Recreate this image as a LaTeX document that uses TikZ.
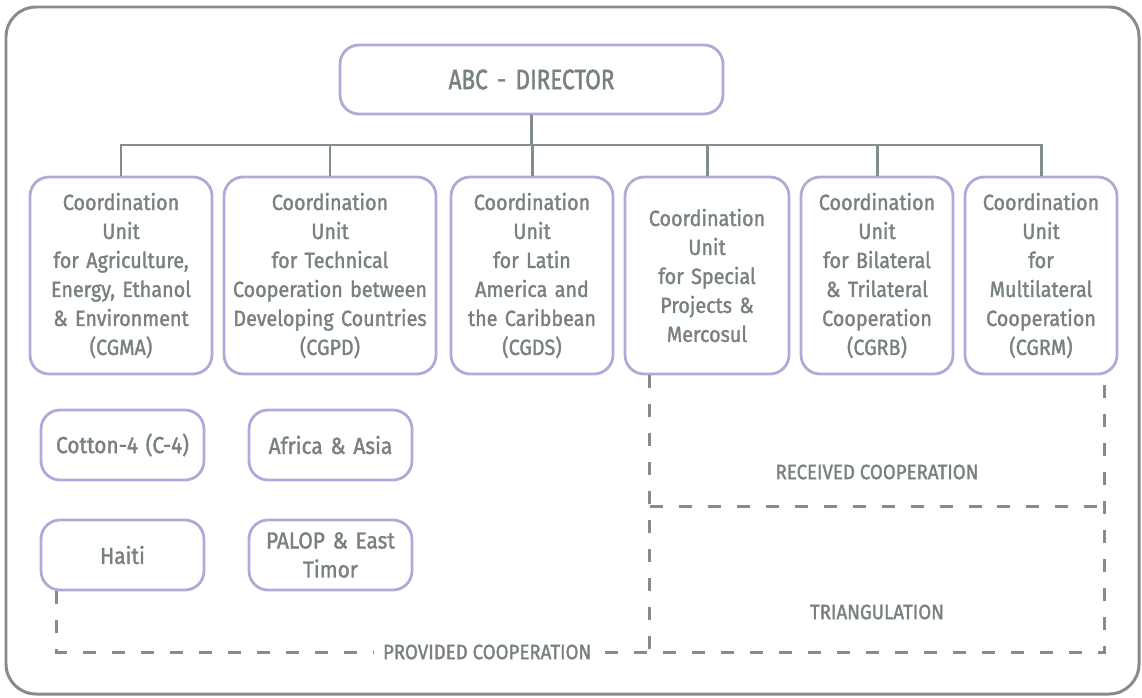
\documentclass[tikz,border=0pt]{standalone}
\usepackage{fontspec}
\setmainfont[FakeStretch=0.9, FakeBold=1.5]{Fira Sans}
\newfontfamily\headfont[FakeStretch=0.8, FakeBold=1.5]{Fira Sans}
\usetikzlibrary{positioning}
\definecolor{framegray}{HTML}{848E89}
\definecolor{textgray}{HTML}{78827D}
\definecolor{lavender}{HTML}{B3A9D8}

\begin{document}
\begin{tikzpicture}[x=0.02cm, y=-0.02cm,
    every node/.style = {text=textgray, font=\fontsize{12.5}{16.5}\selectfont},
    unitbox/.style    = {draw=lavender, line width=1.6pt, rounded corners=0.38cm,
      align=center, inner sep=0pt},
    unit/.style       = {unitbox, text width=#1, minimum height=3.94cm},
    sub/.style        = {unitbox, text width=3.26cm, minimum height=1.4cm,
      font=\fontsize{13.2}{16.5}\selectfont},
    tie/.style        = {draw=framegray, line width=1.7pt},
    coop/.style       = {draw=framegray, line width=1.7pt, dash pattern=on 7.4pt off 9.1pt},
    coop label/.style = {font=\fontsize{11.8}{14}\selectfont, fill=white, inner xsep=5pt},
  ]
  \useasboundingbox (0,0) rectangle (1142,697);
  \draw[tie, rounded corners=0.6cm] (6,7) rectangle (1139,694);

  \node[unitbox, text width=7.66cm, minimum height=1.38cm, font=\headfont\fontsize{16}{18}\selectfont]
    (dir) at (531.5,79.5) {ABC - DIRECTOR};

  \node[unit=3.64cm] (cgma) at (121,275.5) {Coordination\\Unit\\for Agriculture,\\Energy, Ethanol\\\& Environment\\(CGMA)};
  \node[unit=4.24cm] (cgpd) at (330,275.5) {Coordination\\Unit\\for Technical\\Cooperation between\\Developing Countries\\(CGPD)};
  \node[unit=3.24cm] (cgds) at (532,275.5) {Coordination\\Unit\\for Latin\\America and\\the Caribbean\\(CGDS)};
  \node[unit=3.28cm] (spec) at (707,275.5) {Coordination\\Unit\\for Special\\Projects \&\\Mercosul};
  \node[unit=3.04cm] (cgrb) at (877,275.5) {Coordination\\Unit\\for Bilateral\\\& Trilateral\\Cooperation\\(CGRB)};
  \node[unit=3.04cm] (cgrm) at (1041,275.5) {Coordination\\Unit\\for\\Multilateral\\Cooperation\\(CGRM)};

  \node[sub] (cotton) at (122.5,445) {Cotton-4 (C-4)};
  \node[sub] (africa) at (330.5,445) {Africa \& Asia};
  \node[sub] (haiti)  at (122.5,555) {Haiti};
  \node[sub] (palop)  at (330.5,555) {PALOP \& East\\Timor};

  \coordinate (bus) at (0,145);
  \draw[tie] (dir.south) -- (dir.south |- bus);
  \foreach \u in {cgma,cgpd,cgds,spec,cgrb,cgrm}
    \draw[tie] (\u.north) |- (dir.south |- bus);

  \coordinate (provS) at ([xshift=0.34cm]haiti.south west);
  \coordinate (recL)  at ([xshift=0.52cm]spec.south west);
  \coordinate (recR)  at ([xshift=-0.28cm]cgrm.south east);
  \coordinate (base)  at (0,652);
  \coordinate (mid)   at (0,506);

  \draw[coop] (recL) -- (recL |- base) -- (recR |- base) -- (recR);
  \draw[coop] (recL |- mid) -- (recR |- mid);
  \draw[coop] (provS) |- (recL |- base)
    node[coop label, pos=0.863] (provided) {PROVIDED COOPERATION};

  \node[coop label] (received) at (877,472) {RECEIVED COOPERATION};
  \node[coop label] (triang)   at (877,612) {TRIANGULATION};
\end{tikzpicture}
\end{document}
